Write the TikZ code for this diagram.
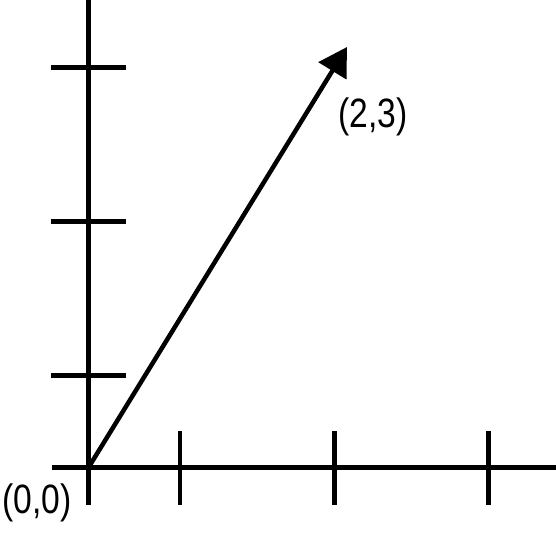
\documentclass[tikz,border=0pt]{standalone}
\usepackage{fontspec}
\setmainfont[FakeStretch=0.82]{Liberation Sans}
\usetikzlibrary{arrows.meta}
\begin{document}
\begin{tikzpicture}[x=1pt,y=-1pt,line width=4.5pt,
        lbl/.style={font=\fontsize{41}{41}\selectfont,inner sep=0pt}]
            \useasboundingbox (0,0) rectangle (556,532);

            \coordinate (O) at (88.5,467.5);
            \coordinate (P) at (347,47);

            % axes
            \draw (52,467.5) -- (556,467.5);
            \draw (88.5,0) -- (88.5,505);

            % ticks
            \draw (51,67.5) -- (125.5,67.5);
            \draw (51,221.5) -- (125.5,221.5);
            \draw (51,375.5) -- (125.5,375.5);
            \draw (180,431) -- (180,505);
            \draw (334.5,431) -- (334.5,505);
            \draw (488.5,431) -- (488.5,505);

            \draw[-{Triangle[length=28pt,width=32pt]}] (O) -- (P);

            \node[lbl] (origin) at (37,503) {(0,0)};
            \node[lbl] (point) at (373,117) {(2,3)};
        \end{tikzpicture}
\end{document}
